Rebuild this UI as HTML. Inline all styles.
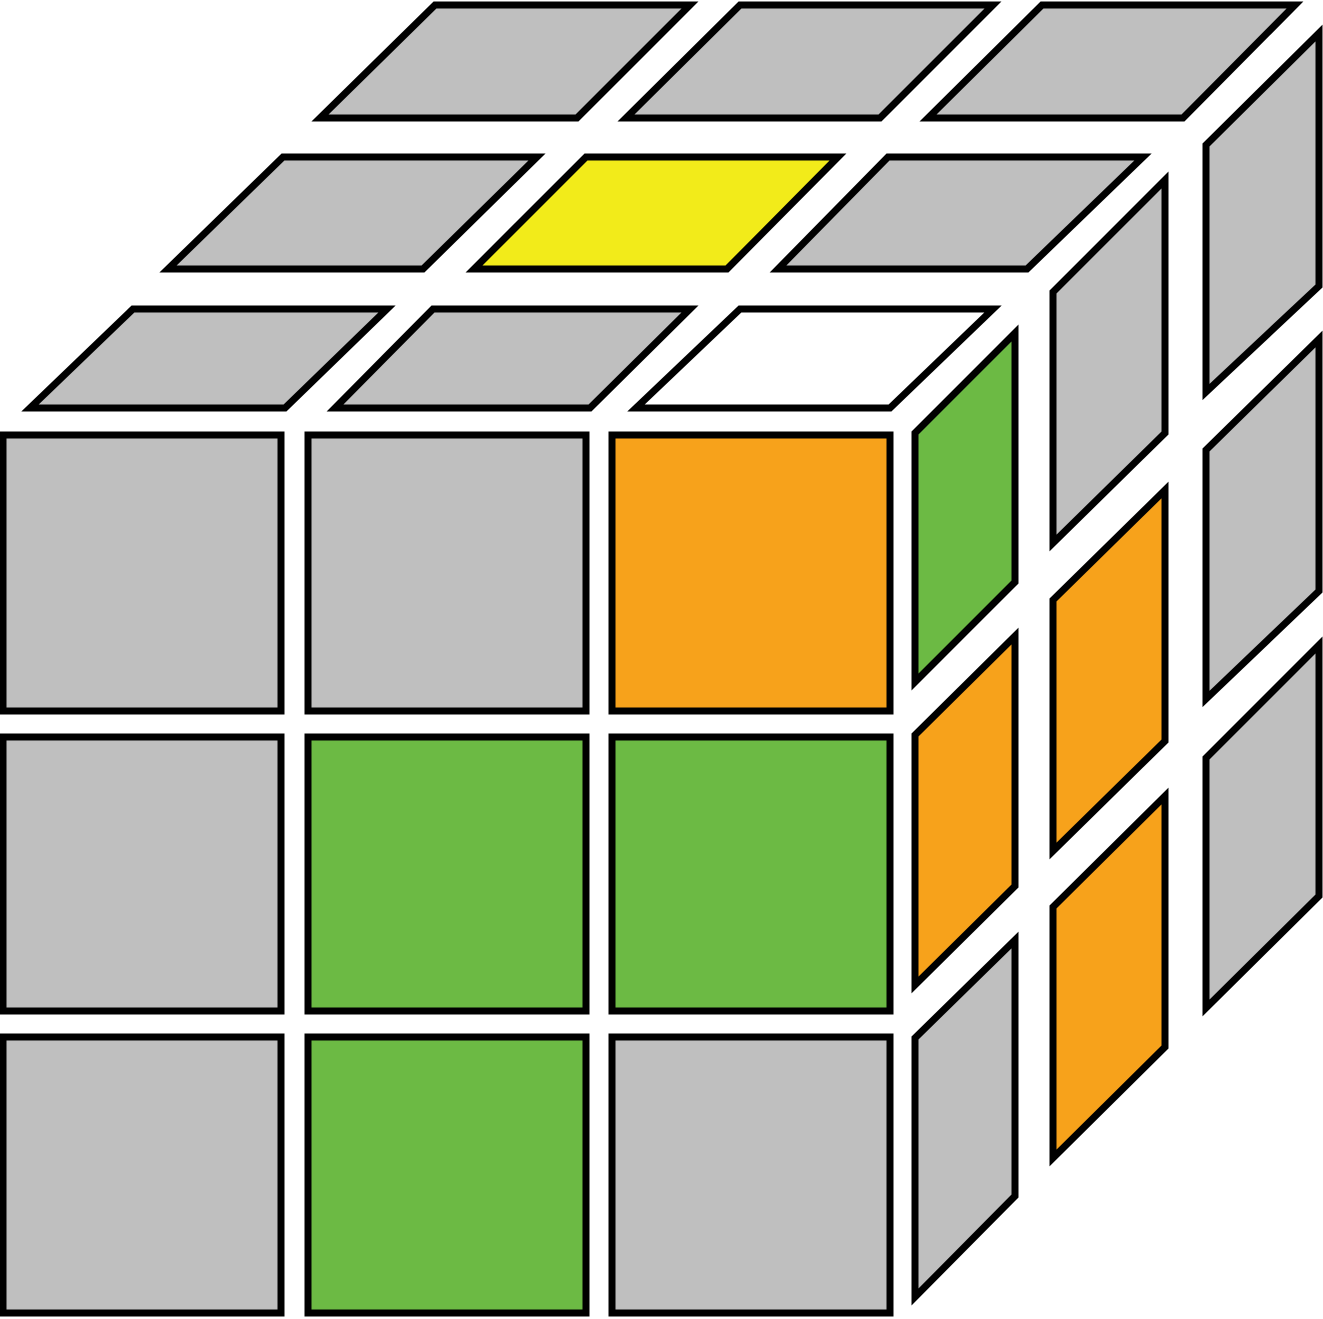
<!DOCTYPE html>
<html><head><meta charset="utf-8"><style>html,body{margin:0;padding:0;background:#fff;}svg{display:block}</style></head>
<body>
<svg width="1323" height="1319" viewBox="0 0 1323 1319" xmlns="http://www.w3.org/2000/svg">
<g stroke="#000" stroke-width="7" stroke-linejoin="miter">
<!-- top face -->
<g>
<polygon fill="#bfbfbf" points="320,118 577,118 690,5 435,5"/>
<polygon fill="#bfbfbf" points="626,118 880,118 993,5 740,5"/>
<polygon fill="#bfbfbf" points="928,118 1183,118 1295,5 1042,5"/>
<polygon fill="#bfbfbf" points="168,269 423,269 537,157 283,157"/>
<polygon fill="#f2eb1a" points="474,269 727,269 838,157 586,157"/>
<polygon fill="#bfbfbf" points="778,269 1027,269 1143,157 888,157"/>
<polygon fill="#bfbfbf" points="30,408 285,408 387,309 133,309"/>
<polygon fill="#bfbfbf" points="335,408 590,408 690,309 433,309"/>
<polygon fill="#ffffff" points="636,408 890,408 993,309 740,309"/>
</g>
<!-- front face -->
<g>
<rect fill="#bfbfbf" x="3" y="435" width="278" height="276"/>
<rect fill="#bfbfbf" x="308" y="435" width="278" height="276"/>
<rect fill="#f7a21b" x="612" y="435" width="278" height="276"/>
<rect fill="#bfbfbf" x="3" y="737" width="278" height="274"/>
<rect fill="#6cba44" x="308" y="737" width="278" height="274"/>
<rect fill="#6cba44" x="612" y="737" width="278" height="274"/>
<rect fill="#bfbfbf" x="3" y="1037" width="278" height="276"/>
<rect fill="#6cba44" x="308" y="1037" width="278" height="276"/>
<rect fill="#bfbfbf" x="612" y="1037" width="278" height="276"/>
</g>
<!-- right face -->
<g>
<polygon fill="#6cba44" points="915,433 1015,333 1015,582 915,682"/>
<polygon fill="#f7a21b" points="915,735 1015,636 1015,886 915,985"/>
<polygon fill="#bfbfbf" points="915,1038 1015,940 1015,1196 915,1297"/>
<polygon fill="#bfbfbf" points="1053,292 1165,180 1165,433 1053,543"/>
<polygon fill="#f7a21b" points="1053,600 1165,490 1165,741 1053,851"/>
<polygon fill="#f7a21b" points="1053,907 1165,796 1165,1047 1053,1158"/>
<polygon fill="#bfbfbf" points="1206,145 1319,33 1319,286 1206,392"/>
<polygon fill="#bfbfbf" points="1206,450 1319,339 1319,591 1206,699"/>
<polygon fill="#bfbfbf" points="1206,758 1319,645 1319,896 1206,1008"/>
</g>
</g>
</svg>
</body></html>
